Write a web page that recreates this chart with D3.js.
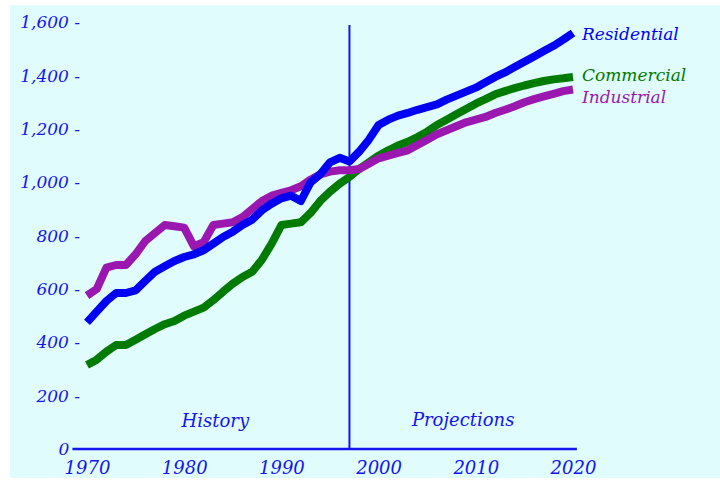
<!DOCTYPE html>
<html>
<head>
<meta charset="utf-8">
<script src="https://cdn.jsdelivr.net/npm/d3@7"></script>
<style>
  body { margin: 0; background: #fff; }
  svg { display: block; }
  text { font-family: "DejaVu Serif", serif; font-style: italic; }
</style>
</head>
<body>
<svg id="chart" width="720" height="480"></svg>
<script>
// data
const years = d3.range(1970, 2021);
const residential = [475, 515, 555, 585, 585, 595, 630, 665, 685, 705,
  720, 730, 745, 770, 795, 815, 840, 860, 895, 920,
  940, 950, 930, 1000, 1030, 1075, 1092, 1078, 1115, 1160,
  1215, 1235, 1250, 1260, 1272, 1282, 1292, 1310, 1325, 1340,
  1355, 1375, 1395, 1412, 1432, 1452, 1472, 1492, 1512, 1535, 1560];
const commercial = [315, 335, 365, 390, 390, 410, 430, 450, 468, 480,
  500, 515, 530, 558, 590, 620, 645, 665, 710, 770,
  840, 845, 850, 885, 930, 965, 995, 1020, 1050, 1075,
  1100, 1120, 1138, 1152, 1170, 1190, 1215, 1235, 1255, 1275,
  1295, 1312, 1330, 1342, 1353, 1363, 1372, 1380, 1386, 1390, 1395];
const industrial = [575, 600, 680, 690, 690, 730, 780, 810, 840, 835,
  830, 760, 775, 840, 845, 850, 870, 900, 930, 950,
  960, 970, 985, 1010, 1030, 1040, 1045, 1045, 1050, 1070,
  1090, 1100, 1110, 1120, 1140, 1160, 1180, 1195, 1210, 1225,
  1235, 1245, 1260, 1272, 1285, 1300, 1312, 1322, 1332, 1342, 1348];
const seriesNames = ['Commercial', 'Industrial', 'Residential'];
const xTicks = [1970, 1980, 1990, 2000, 2010, 2020];
const yTicks = [0, 200, 400, 600, 800, 1000, 1200, 1400, 1600];
const splitYear = 1997;

const svg = d3.select('#chart');
const blue = '#1414ee';
const colors = { Residential: '#0000f4', Commercial: '#007a00', Industrial: '#9a18b0' };
const values = { Residential: residential, Commercial: commercial, Industrial: industrial };

// background panel
svg.append('rect')
  .attr('x', 10).attr('y', 5)
  .attr('width', 710).attr('height', 473)
  .attr('fill', '#e0fcfc');

const x = d3.scaleLinear().domain([1970, 2020]).range([87, 573]);
const y = d3.scaleLinear().domain([0, 1600]).range([449, 22.3]);

// y axis (labels only)
let yAxis = svg.append('g')
  .attr('transform', 'translate(82,0)')
  .call(d3.axisLeft(y).tickValues(yTicks).tickSize(0).tickPadding(2)
    .tickFormat(d => d === 0 ? '0  ' : d3.format(',')(d) + ' -'));
yAxis.select('.domain').remove();
yAxis.selectAll('text')
  .attr('fill', blue)
  .style('font-size', '17px')
  .style('font-family', '"DejaVu Serif", serif')
  .style('font-style', 'italic')
  .attr('xml:space', 'preserve');

// x axis
let xAxis = svg.append('g')
  .attr('transform', 'translate(0,449)')
  .call(d3.axisBottom(x).tickValues(xTicks).tickSize(0).tickPadding(12).tickFormat(d3.format('d')));
xAxis.select('.domain').remove();
xAxis.selectAll('text')
  .attr('fill', blue)
  .style('font-size', '18px')
  .style('font-family', '"DejaVu Serif", serif')
  .style('font-style', 'italic');

svg.append('line')
  .attr('x1', x(1968.5)).attr('x2', x(2020.4))
  .attr('y1', y(0)).attr('y2', y(0))
  .attr('stroke', blue).attr('stroke-width', 2.5);

// history / projections divider
svg.append('line')
  .attr('x1', x(splitYear)).attr('x2', x(splitYear))
  .attr('y1', y(1590)).attr('y2', y(0))
  .attr('stroke', blue).attr('stroke-width', 2);

svg.append('text')
  .attr('x', x(1983.2)).attr('y', 427)
  .attr('text-anchor', 'middle')
  .attr('fill', blue).style('font-size', '18px')
  .text('History');
svg.append('text')
  .attr('x', x(2008.7)).attr('y', 426)
  .attr('text-anchor', 'middle')
  .attr('fill', blue).style('font-size', '18px')
  .text('Projections');

// series lines
const line = d3.line()
  .x((d, i) => x(years[i]))
  .y(d => y(d));

svg.selectAll('.series').data(seriesNames)
  .join('path')
  .attr('class', 'series')
  .attr('d', d => line(values[d]))
  .attr('fill', 'none')
  .attr('stroke', d => colors[d])
  .attr('stroke-width', 8)
  .attr('stroke-linejoin', 'round');

// end labels
const labelY = { Residential: 40, Commercial: 81, Industrial: 103 };
svg.selectAll('.endLabel').data(seriesNames)
  .join('text')
  .attr('class', 'endLabel')
  .attr('x', 582)
  .attr('y', d => labelY[d])
  .attr('fill', d => colors[d])
  .style('font-size', '17px')
  .text(d => d);
</script>
</body>
</html>
